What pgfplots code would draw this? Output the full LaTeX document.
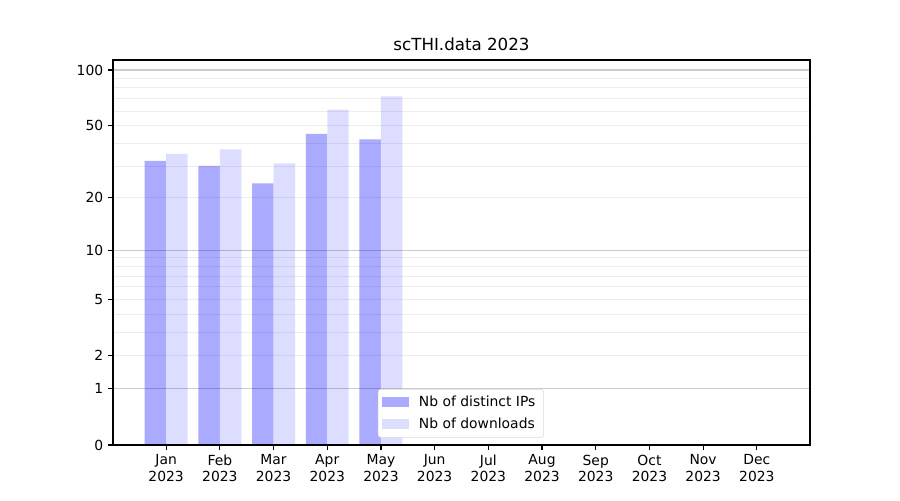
\documentclass[border=0pt]{standalone}
\usepackage{pgfplots}
\pgfplotsset{compat=1.18}
\usepackage{fontspec}
\setmainfont{DejaVu Sans}
\definecolor{ipc}{HTML}{AAAAFF}
\definecolor{dlc}{HTML}{DDDDFF}
\begin{document}
\begin{tikzpicture}
\path[use as bounding box] (0,0) rectangle (648pt,360pt);
\begin{axis}[
  at={(81.36pt,39.6pt)}, anchor=south west,
  scale only axis, width=501.84pt, height=277.2pt,
  font=\fontsize{10pt}{12pt}\selectfont,
  /pgf/number format/assume math mode=true,
  title={scTHI.data 2023},
  title style={font=\fontsize{12pt}{14pt}\selectfont, yshift=-3pt},
  y coord trafo/.code={\pgfmathparse{ln(#1+1)}},
  y coord inv trafo/.code={\pgfmathparse{exp(#1)-1}},
  ymin=0, ymax=113.2,
  xmin=-0.99, xmax=11.99,
  ytick={0,1,2,5,10,20,50,100},
  yticklabels={0,1,2,5,10,20,50,100},
  minor ytick={2,3,4,5,6,7,8,9,20,30,40,50,60,70,80,90},
  minor tick length=0pt,
  ymajorgrids=false, yminorgrids=true,
  minor grid style={black, opacity=0.07, line width=0.6pt},
  extra y ticks={1,10,100},
  extra y tick labels={},
  extra y tick style={grid=major, major tick length=0pt, major grid style={black, opacity=0.2, line width=0.8pt}},
  xtick={0,1,2,3,4,5,6,7,8,9,10,11},
  xticklabels={Jan\\2023,Feb\\2023,Mar\\2023,Apr\\2023,May\\2023,Jun\\2023,Jul\\2023,Aug\\2023,Sep\\2023,Oct\\2023,Nov\\2023,Dec\\2023},
  x tick label style={align=center},
  tick align=outside, major tick length=3.5pt,
  tick style={black, line width=0.8pt},
  axis line style={line width=0.8pt},
  xtick pos=bottom, ytick pos=left,
  axis on top,
  legend style={at={(0.38,0.019)}, anchor=south west, draw=black!15, rounded corners=2pt, font=\fontsize{10pt}{12pt}\selectfont, row sep=2.5pt, inner xsep=3pt, inner ysep=3pt,
    nodes={inner xsep=3pt},
    /tikz/every odd column/.append style={column sep=4pt}},
  legend cell align=left,
  legend image code/.code={\fill[#1, draw=none, sharp corners] (0pt,-3.6pt) rectangle (19.4pt,3.6pt);},
]
\addplot[ybar, bar width=0.4, bar shift=-0.2, fill=ipc, draw=none] coordinates {
 (0,32) (1,30) (2,24) (3,45) (4,42)
};
\addlegendentry{Nb of distinct IPs}
\addplot[ybar, bar width=0.4, bar shift=0.2, fill=dlc, draw=none] coordinates {
 (0,35) (1,37) (2,31) (3,61) (4,72)
};
\addlegendentry{Nb of downloads}
\end{axis}
\end{tikzpicture}
\end{document}
